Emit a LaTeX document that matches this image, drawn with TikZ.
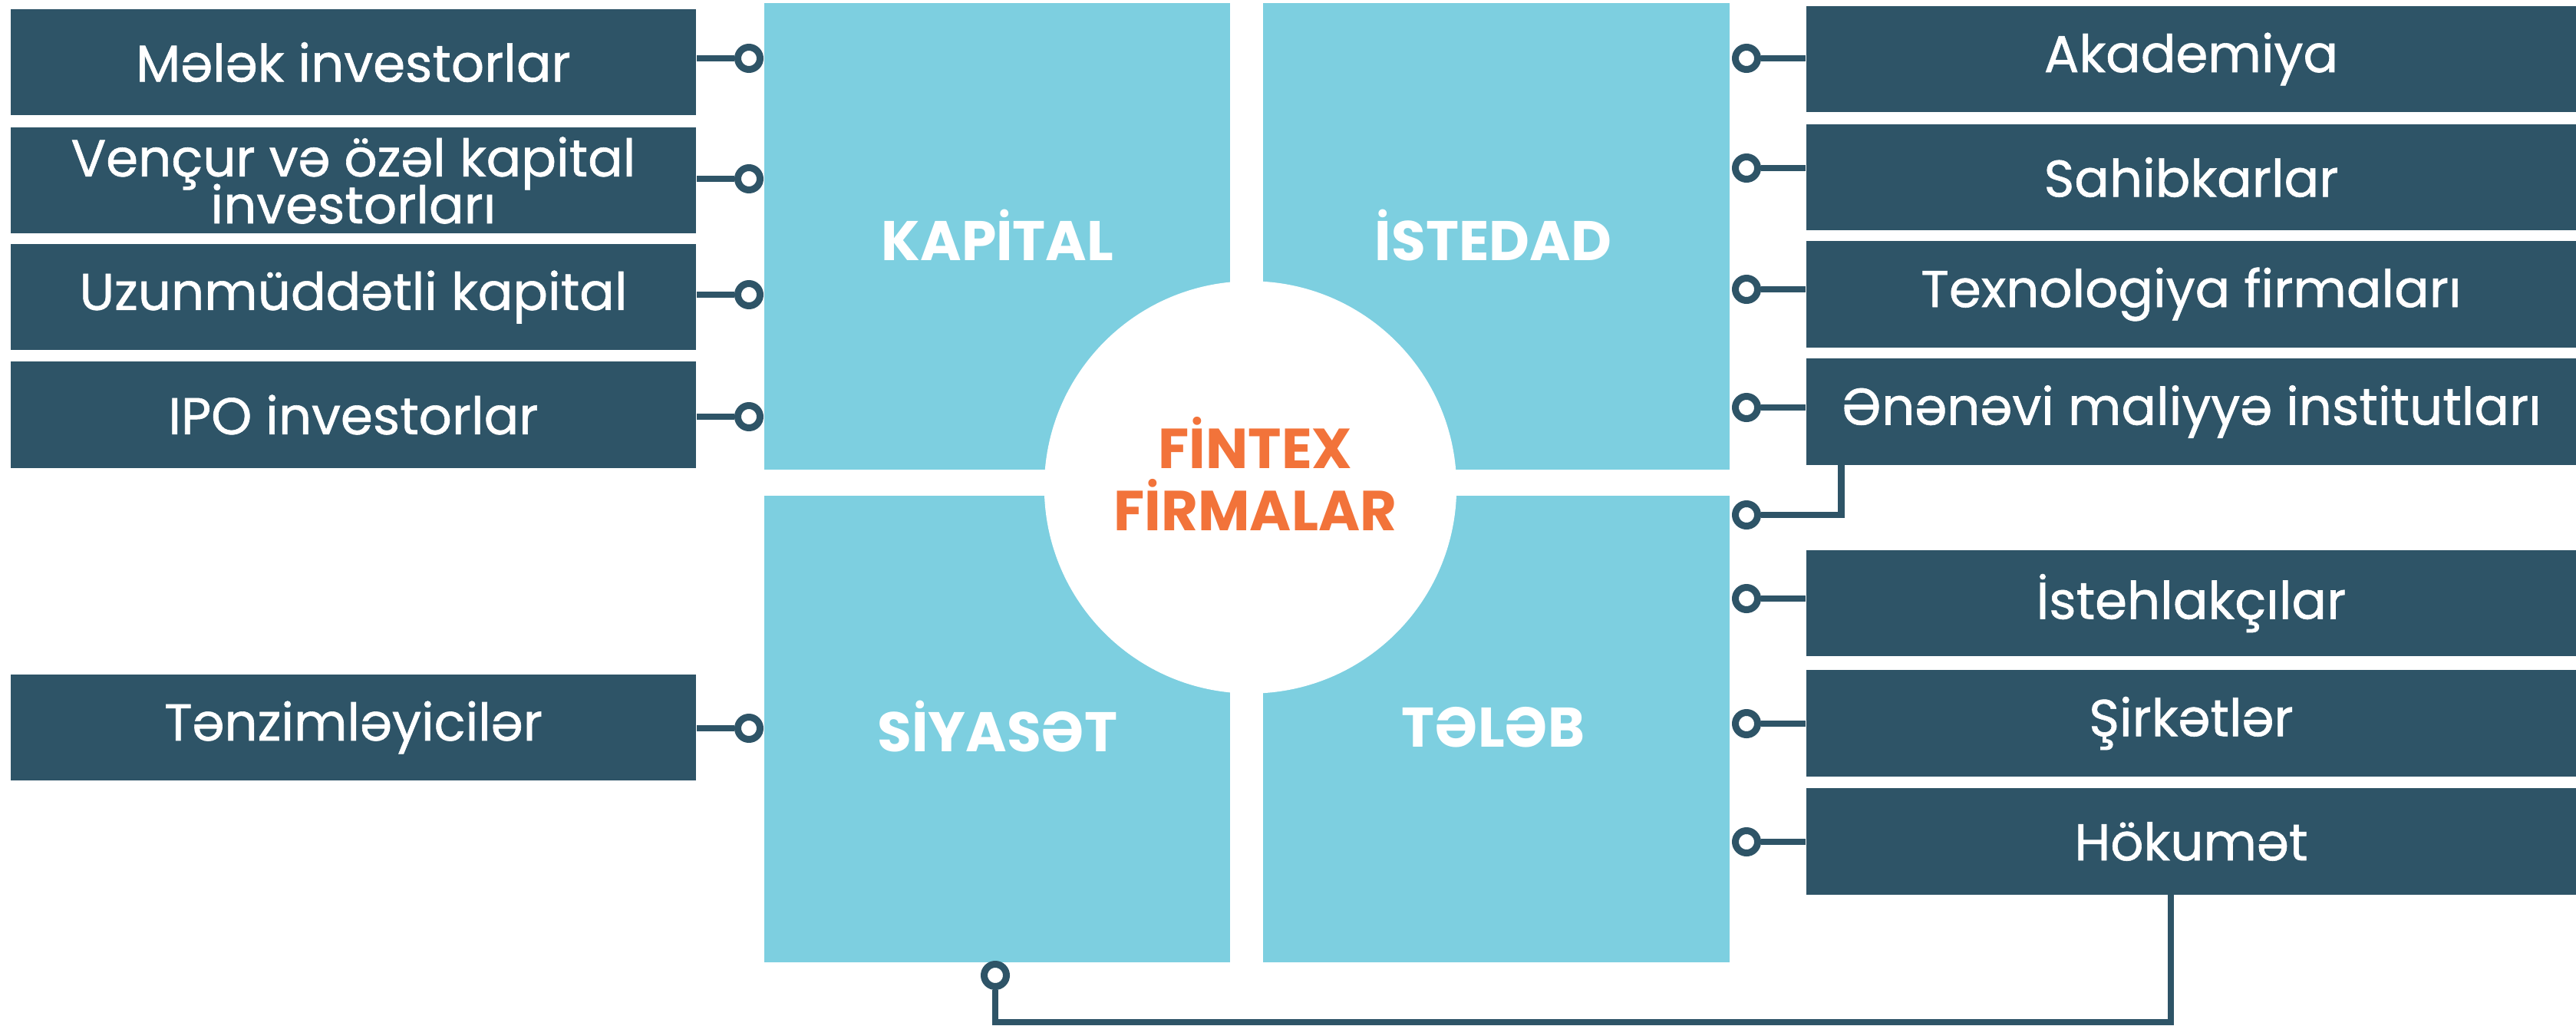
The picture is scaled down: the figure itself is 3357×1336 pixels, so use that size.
\documentclass[tikz,border=0pt]{standalone}
\usepackage{fontspec}
\setmainfont{Poppins}
\newfontfamily\boxfont{Poppins}[FakeBold=0.9]
\newcommand\myboxtext{\boxfont\fontsize{19.2}{17.4}\selectfont\lineskiplimit=-30pt\relax}
\definecolor{dk}{HTML}{2E5467}
\definecolor{lb}{HTML}{7DCFE0}
\definecolor{og}{HTML}{F2733A}
\begin{document}
\begin{tikzpicture}[x=0.01cm,y=-0.01cm,
  lbox/.style={rectangle, fill=dk, text=white, minimum width=8.93cm, minimum height=1.38cm, inner sep=0pt, align=center, font=\myboxtext},
  rbox/.style={lbox, minimum width=10.03cm},
  sq/.style={rectangle, fill=lb, minimum width=6.07cm, minimum height=6.08cm, inner sep=0pt},
  sqlabel/.style={text=white, anchor=base, inner sep=0pt, font=\bfseries\fontsize{20.7}{21}\selectfont},
  hublabel/.style={text=og, anchor=base, inner sep=0pt, font=\bfseries\fontsize{20.9}{21}\selectfont},
  ring/.style={circle, draw=dk, fill=white, line width=0.09cm, minimum size=0.29cm, inner sep=0pt},
  conn/.style={draw=dk, line width=0.085cm}]
\useasboundingbox (0,0) rectangle (3357,1336);

% quadrants
\node[sq] (kap) at (1299.5,308) {};
\node[sq] (ist) at (1950,308) {};
\node[sq] (siy) at (1299.5,950) {};
\node[sq] (tel) at (1950,950) {};
\node[circle, fill=white, minimum size=5.37cm, inner sep=0pt] (hub) at (1629.5,635) {};

\node[sqlabel] (kapl) at (1300,339) {KAPİTAL};
\node[sqlabel] (istl) at (1946,339) {İSTEDAD};
\node[sqlabel] (siyl) at (1300,979) {SİYASƏT};
\node[sqlabel] (tell) at (1946,973) {TƏLƏB};
\node[hublabel] (hub1) at (1636,610) {FİNTEX};
\node[hublabel] (hub2) at (1636,691) {FİRMALAR};

% left boxes
\node[lbox] (l1) at (460.5,81) {Mələk investorlar};
\node[lbox] (l2) at (460.5,235) {Vençur və özəl kapital\\investorları};
\node[lbox] (l3) at (460.5,387) {Uzunmüddətli kapital};
\node[lbox] (l4) at (460.5,540.5) {IPO investorlar};
\node[lbox] (l5) at (460.5,948) {Tənzimləyicilər};

% right boxes
\node[rbox] (r1) at (2855.5,77) {Akademiya};
\node[rbox] (r2) at (2855.5,231) {Sahibkarlar};
\node[rbox] (r3) at (2855.5,383.5) {Texnologiya firmaları};
\node[rbox] (r4) at (2855.5,536.5) {Ənənəvi maliyyə institutları};
\node[rbox] (r5) at (2855.5,786) {İstehlakçılar};
\node[rbox] (r6) at (2855.5,942.5) {Şirkətlər};
\node[rbox] (r7) at (2855.5,1096.5) {Hökumət};

% rings left
\node[ring] (cl1) at (976,76) {};
\node[ring] (cl2) at (976,233) {};
\node[ring] (cl3) at (976,384) {};
\node[ring] (cl4) at (976,543) {};
\node[ring] (cl5) at (976,949) {};
% rings right
\node[ring] (cr1) at (2276,76) {};
\node[ring] (cr2) at (2276,219) {};
\node[ring] (cr3) at (2276,377) {};
\node[ring] (cr4) at (2276,531) {};
\node[ring] (cr9) at (2276,671) {};
\node[ring] (cr5) at (2276,780) {};
\node[ring] (cr6) at (2276,943) {};
\node[ring] (cr7) at (2276,1097) {};
% ring bottom
\node[ring] (cb) at (1297,1271) {};

% connectors
\foreach \b/\c in {l1/cl1,l2/cl2,l3/cl3,l4/cl4,l5/cl5}
  \draw[conn] (\b.east |- \c) -- (\c.west);
\foreach \b/\c in {r1/cr1,r2/cr2,r3/cr3,r4/cr4,r5/cr5,r6/cr6,r7/cr7}
  \draw[conn] (\b.west |- \c) -- (\c.east);
\coordinate (en1) at (2399.5,671);
\draw[conn] (r4.south -| en1) -- (en1) -- (cr9.east);
\coordinate (hk1) at (2829,1332);
\draw[conn] (r7.south -| hk1) -- (hk1) -| (cb.south);
\end{tikzpicture}
\end{document}
